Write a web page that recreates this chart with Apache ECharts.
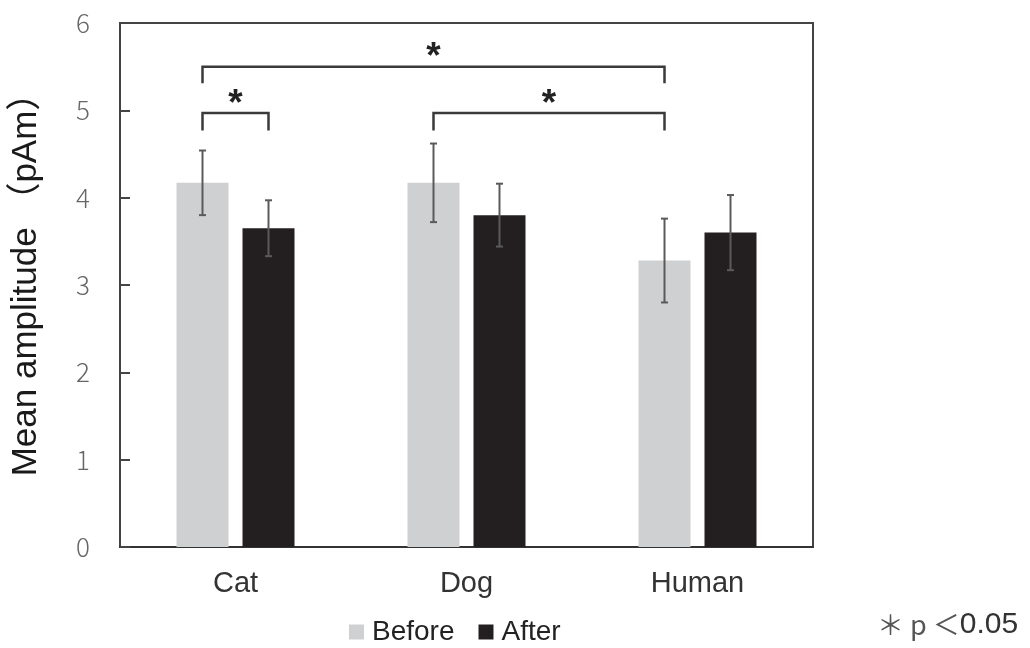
<!DOCTYPE html>
<html>
<head>
<meta charset="utf-8">
<script src="https://cdn.jsdelivr.net/npm/echarts@6/dist/echarts.min.js"></script>
<style>html,body{margin:0;padding:0;background:#fff}#chart{width:1030px;height:648px}</style>
</head>
<body>
<div id="chart"></div>
<script>
// ---- data ----
var categories = ['Cat', 'Dog', 'Human'];
var seriesNames = ['Before', 'After'];
var beforeMean = [4.17, 4.17, 3.28];
var beforeErr  = [0.37, 0.45, 0.48];
var afterMean  = [3.65, 3.80, 3.60];
var afterErr   = [0.32, 0.36, 0.43];
var yTicks = [0, 1, 2, 3, 4, 5, 6];
// brackets: [fromCategory, fromSeries, toCategory, toSeries, lineValue, legValue]
var bracketFromCat = [0, 0, 1];
var bracketFromSer = [0, 0, 0];
var bracketToCat   = [0, 2, 2];
var bracketToSer   = [1, 0, 0];
var bracketLine    = [4.97, 5.50, 4.97];
var bracketLeg     = [4.77, 5.31, 4.77];
var bracketLabel   = ['*', '*', '*'];

// ---- styles ----
var BAR_W = 52, BAR_GAP = 14;
var OFFSET = (BAR_W + BAR_GAP) / 2;
function serOffset(s) { return s === 0 ? -OFFSET : OFFSET; }

var chart = echarts.init(document.getElementById('chart'));

function errData(mean, err) {
  return categories.map(function (c, i) { return [i, mean[i] - err[i], mean[i] + err[i]]; });
}
function errRender(sIdx) {
  return function (params, api) {
    var lo = api.coord([api.value(0), api.value(1)]);
    var hi = api.coord([api.value(0), api.value(2)]);
    var x = lo[0] + serOffset(sIdx);
    var cap = 3.5;
    var st = { stroke: '#5a5a5a', lineWidth: 2 };
    return { type: 'group', children: [
      { type: 'line', shape: { x1: x, y1: hi[1], x2: x, y2: lo[1] }, style: st },
      { type: 'line', shape: { x1: x - cap, y1: hi[1], x2: x + cap, y2: hi[1] }, style: st },
      { type: 'line', shape: { x1: x - cap, y1: lo[1], x2: x + cap, y2: lo[1] }, style: st }
    ]};
  };
}

var bracketData = bracketLine.map(function (v, i) {
  return [bracketFromCat[i], bracketFromSer[i], bracketToCat[i], bracketToSer[i], bracketLine[i], bracketLeg[i]];
});

var option = {
  animation: false,
  backgroundColor: '#fff',
  grid: { left: 120, right: 217, top: 23, bottom: 101, show: true, borderColor: '#444', borderWidth: 2, backgroundColor: 'transparent' },
  legend: {
    data: seriesNames,
    left: 344, top: 613,
    icon: 'rect', itemWidth: 15, itemHeight: 15, itemGap: 24,
    textStyle: { fontSize: 28, color: '#222', fontFamily: 'Liberation Sans', padding: [0, 0, 0, 3] }
  },
  xAxis: {
    type: 'category', data: categories,
    axisTick: { show: false },
    axisLine: { lineStyle: { color: '#333', width: 2 } },
    axisLabel: { fontSize: 29, color: '#333', margin: 22, fontFamily: 'Liberation Sans' }
  },
  yAxis: {
    type: 'value', min: yTicks[0], max: yTicks[yTicks.length - 1], interval: 1,
    name: 'Mean amplitude （pAm）', nameLocation: 'middle', nameGap: 76,
    nameTextStyle: { fontSize: 35, color: '#1a1a1a', fontFamily: 'Liberation Sans, Noto Sans CJK JP', padding: [0, 0, 0, 18] },
    axisLine: { show: true, lineStyle: { color: '#444', width: 2 } },
    axisTick: { show: true, inside: true, length: 10, lineStyle: { color: '#444', width: 2 } },
    splitLine: { show: false },
    axisLabel: { fontSize: 26, color: '#666', margin: 30, fontFamily: 'Noto Sans CJK JP', fontWeight: 300 }
  },
  series: [
    { name: 'Before', type: 'bar', data: beforeMean, barWidth: BAR_W, barGap: (BAR_GAP / BAR_W * 100) + '%', itemStyle: { color: '#cfd0d2' } },
    { name: 'After', type: 'bar', data: afterMean, barWidth: BAR_W, itemStyle: { color: '#231f20' } },
    { type: 'custom', name: 'errBefore', data: errData(beforeMean, beforeErr), encode: { x: 0, y: [1, 2] }, renderItem: errRender(0), z: 5 },
    { type: 'custom', name: 'errAfter', data: errData(afterMean, afterErr), encode: { x: 0, y: [1, 2] }, renderItem: errRender(1), z: 5 },
    {
      type: 'custom', name: 'brackets', data: bracketData, encode: { x: [0, 2], y: [4, 5] }, z: 6,
      renderItem: function (params, api) {
        var a = api.coord([api.value(0), api.value(4)]);
        var b = api.coord([api.value(2), api.value(4)]);
        var leg = api.coord([api.value(0), api.value(5)]);
        var x1 = a[0] + serOffset(api.value(1));
        var x2 = b[0] + serOffset(api.value(3));
        var y = a[1], yl = leg[1];
        return { type: 'group', children: [
          { type: 'polyline', shape: { points: [[x1, yl], [x1, y], [x2, y], [x2, yl]] }, style: { stroke: '#3a3a3a', lineWidth: 2.5, fill: null } },
          { type: 'text', style: { text: bracketLabel[params.dataIndex], x: (x1 + x2) / 2, y: y + 10, align: 'center', verticalAlign: 'bottom', fontSize: 37, fontWeight: 'bold', fill: '#222', fontFamily: 'Liberation Sans' } }
        ]};
      }
    }
  ],
  graphic: [
    { type: 'text', left: 877, top: 610, style: {
      text: '{a|＊ p ＜}{b|0.05}',
      rich: {
        a: { fontSize: 27, fill: '#555', fontFamily: 'Noto Sans CJK JP' },
        b: { fontSize: 30, fill: '#333', fontFamily: 'Liberation Sans' }
      }
    } }
  ]
};
chart.setOption(option);
</script>
</body>
</html>
